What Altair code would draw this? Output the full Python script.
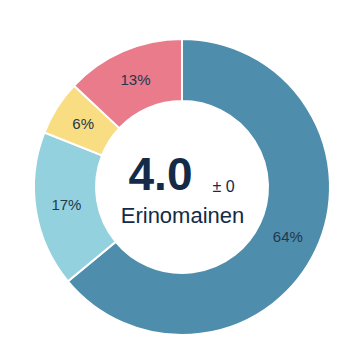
import altair as alt
import pandas as pd

categories = ["A", "B", "C", "D"]
values = [64, 17, 6, 13]
order = [1, 2, 3, 4]
labels = ["64%", "17%", "6%", "13%"]
colors = ["#4e8dab", "#94d1de", "#f9dd82", "#e97b8b"]

center_value = "4.0"
center_pm = "± 0"
center_label = "Erinomainen"

df = pd.DataFrame({"cat": categories, "value": values, "order": order, "label": labels})

CX, CY = 174, 179

base = alt.Chart(df).encode(
    theta=alt.Theta("value:Q", stack=True),
    order=alt.Order("order:Q"),
)

arcs = base.mark_arc(radius=148, radius2=86, stroke="white", strokeWidth=2).encode(
    x=alt.value(CX), y=alt.value(CY),
    color=alt.Color("cat:N", scale=alt.Scale(domain=categories, range=colors), legend=None),
)

text = base.mark_text(radius=117, fontSize=15, font="Liberation Sans", color="#22384f", baseline="middle").encode(
    x=alt.value(CX), y=alt.value(CY),
    text="label:N",
)

cdf = pd.DataFrame({"t": [center_value]})
big = alt.Chart(cdf).mark_text(font="Liberation Sans", fontSize=46, fontWeight="bold", color="#142a48", baseline="alphabetic", align="center").encode(
    x=alt.value(152.5), y=alt.value(182), text="t:N")
pdf = pd.DataFrame({"t": [center_pm]})
pm = alt.Chart(pdf).mark_text(font="Liberation Sans", fontSize=16, color="#142a48", baseline="alphabetic", align="center").encode(
    x=alt.value(215.5), y=alt.value(184), text="t:N")
ldf = pd.DataFrame({"t": [center_label]})
lab = alt.Chart(ldf).mark_text(font="Liberation Sans", fontSize=22, color="#142a48", baseline="alphabetic", align="center").encode(
    x=alt.value(174.5), y=alt.value(215), text="t:N")

chart = alt.layer(arcs, text, big, pm, lab).properties(
    width=346, height=345, padding=0, autosize=alt.AutoSizeParams(type="none")
).configure_view(stroke=None)

chart.save("out.html", embed_options={"renderer": "svg", "actions": False})
